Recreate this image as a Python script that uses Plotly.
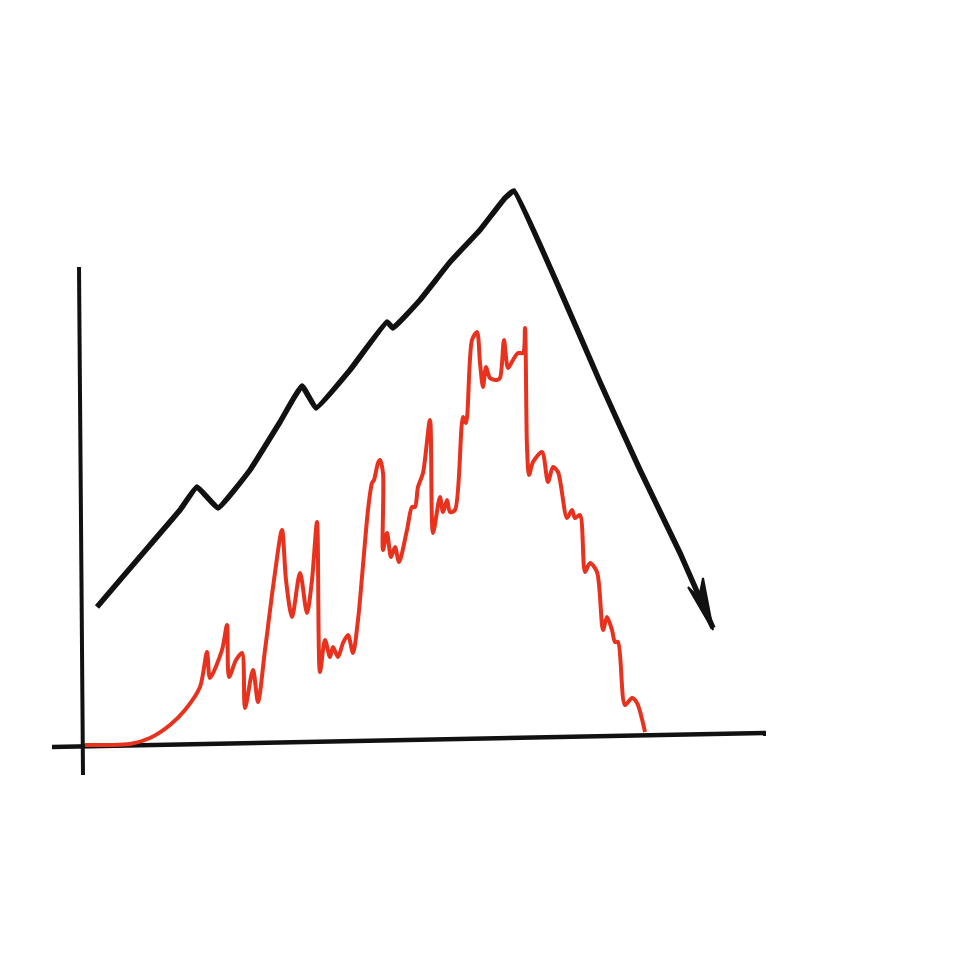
import plotly.graph_objects as go

# Red "price" line: x = time step, y = height above baseline
red_x = [2, 27, 47, 67, 87, 102, 117, 124, 127, 139, 144, 146, 153, 159, 162, 170, 175, 182, 191, 199,
         203, 209, 217, 224, 229, 234, 237, 242, 247, 250, 255, 260, 265, 270, 275, 279, 285, 289, 291, 295,
         297, 300, 300, 304, 308, 312, 316, 324, 329, 332, 335, 340, 347, 350, 357, 360, 364, 367, 372, 380,
         383, 389, 394, 397, 400, 403, 407, 414, 417, 421, 425, 430, 435, 440, 442, 444, 446, 450, 459, 465,
         470, 475, 484, 489, 492, 497, 502, 507, 514, 520, 524, 529, 532, 535, 542, 549, 554, 562]
red_y = [0, 0, 1, 7, 20, 35, 58, 93, 67, 95, 120, 68, 85, 92, 37, 75, 43, 95, 165, 215,
         165, 128, 172, 132, 165, 223, 73, 105, 88, 98, 88, 102, 110, 92, 125, 168, 235, 262, 265, 282,
         285, 272, 195, 212, 188, 198, 183, 215, 238, 238, 258, 272, 325, 212, 248, 233, 245, 233, 235, 328,
         322, 405, 413, 382, 358, 378, 367, 365, 367, 405, 377, 385, 392, 392, 417, 298, 270, 283, 293, 263,
         278, 273, 227, 235, 227, 230, 173, 182, 173, 115, 128, 115, 103, 103, 40, 47, 42, 13]

# Black trend line
trend_x = [14, 37, 67, 97, 114, 135, 167, 197, 219, 233, 267, 304, 310, 337, 367, 397, 422, 431,
           477, 517, 557, 597, 630]
trend_y = [138, 165, 200, 235, 258, 237, 275, 323, 359, 337, 375, 423, 417, 445, 483, 515, 547, 554,
           455, 363, 275, 192, 117]

# Arrow head
head_x = [605, 630, 620, 616, 605]
head_y = [158, 115, 167, 147, 158]

# Hand-drawn axes
yaxis_x = [-4, 0]
yaxis_y = [478, -30]
xaxis_x = [-31, 683]
xaxis_y = [-2, 12]

fig = go.Figure()
fig.add_trace(go.Scatter(x=yaxis_x, y=yaxis_y, mode="lines",
                         line=dict(color="#111111", width=4), hoverinfo="skip"))
fig.add_trace(go.Scatter(x=xaxis_x, y=xaxis_y, mode="lines",
                         line=dict(color="#111111", width=4.5), hoverinfo="skip"))
fig.add_trace(go.Scatter(x=red_x, y=red_y, mode="lines",
                         line=dict(color="#e8321e", width=4, shape="spline", smoothing=0.8)))
fig.add_trace(go.Scatter(x=trend_x, y=trend_y, mode="lines",
                         line=dict(color="#111111", width=5.5, shape="spline", smoothing=0.3)))
fig.add_trace(go.Scatter(x=head_x, y=head_y, mode="lines", fill="toself",
                         fillcolor="#111111", line=dict(color="#111111", width=2)))

fig.update_layout(
    width=980, height=980, autosize=False,
    margin=dict(l=0, r=0, t=0, b=0),
    paper_bgcolor="white", plot_bgcolor="white",
    showlegend=False,
    xaxis=dict(range=[-75, 905], visible=False, fixedrange=True),
    yaxis=dict(range=[-243, 737], visible=False, fixedrange=True),
)
fig.write_html("out.html")
